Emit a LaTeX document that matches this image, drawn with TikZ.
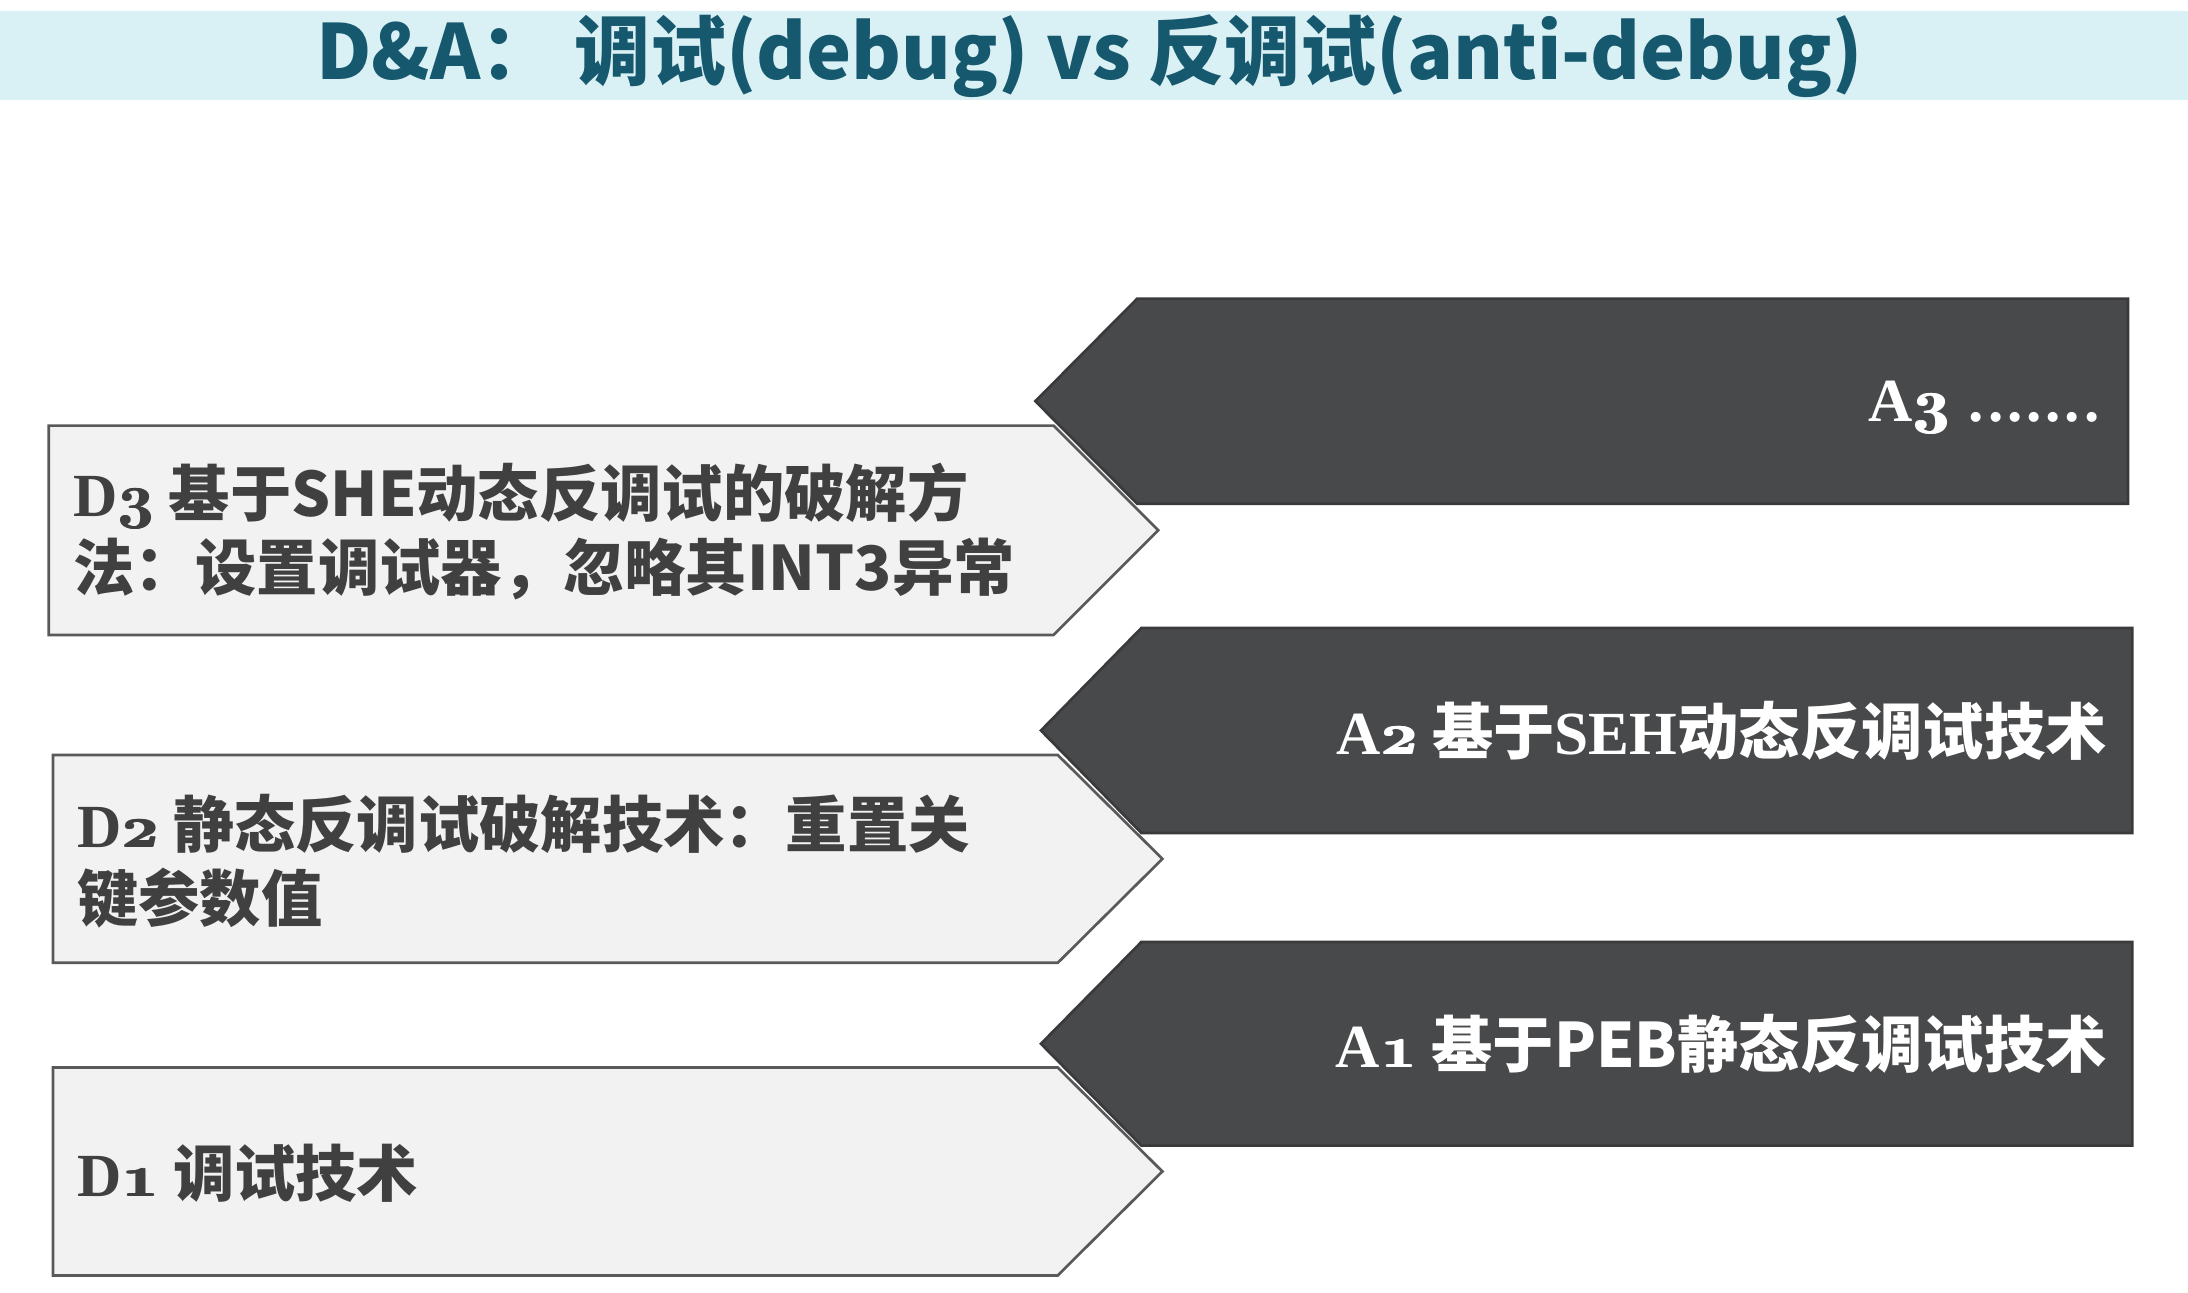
\documentclass[tikz,border=0pt]{standalone}
\usepackage{fontspec}
\usepackage{xcolor}
\usetikzlibrary{positioning}
\newfontfamily\cjk{Noto Sans CJK SC}
\newfontfamily\latserif{Liberation Serif}
\definecolor{bandcyan}{RGB}{217,240,245}
\definecolor{titleteal}{RGB}{22,88,110}
\definecolor{lightgray}{RGB}{242,242,242}
\definecolor{edgegray}{RGB}{89,89,89}
\definecolor{slate}{RGB}{72,73,75}
\definecolor{slateedge}{RGB}{58,58,60}
\definecolor{inkgray}{RGB}{64,64,64}
\newcommand\osn[1]{{\usefont{OML}{cmm}{b}{it}\rlap{#1}\kern0.5pt\rlap{#1}\kern0.5pt#1}}
\newcommand\lbl[2]{{\latserif\bfseries #1\osn{#2}}}
\newcommand\dotrun{{\latserif\bfseries .\kern1.6pt.\kern1.6pt.\kern1.6pt.\kern1.6pt.\kern1.6pt.\kern1.6pt.}}
\tikzstyle{defence}=[fill=lightgray, draw=edgegray, line width=1.1pt, line join=miter]
\tikzstyle{attack}=[fill=slate, draw=slateedge, line width=1.1pt, line join=miter]
\tikzstyle{dtext}=[anchor=west, align=left, text=inkgray, font=\cjk\bfseries\fontsize{25}{30}\selectfont, inner sep=0pt]
\tikzstyle{atext}=[anchor=east, align=right, text=white, font=\cjk\bfseries\fontsize{25}{30}\selectfont, inner sep=0pt]
\begin{document}
\begin{tikzpicture}[x=0.02cm, y=-0.02cm]
		\useasboundingbox (0,0) rectangle (1568,926);
		\fill[bandcyan] (0,8) rectangle (1568,72);
		\node (title) [text=titleteal, font=\cjk\bfseries\fontsize{31}{36}\selectfont, inner sep=0pt] at (781,40) {D\&A：\ 调试(debug) vs 反调试(anti-debug)};
		
		% defence side
		\draw[defence] (35,305) -- (755,305) -- (830,380) -- (755,455) -- (35,455) -- cycle;
		\draw[defence] (38,541) -- (758,541) -- (833,615.5) -- (758,690) -- (38,690) -- cycle;
		\draw[defence] (38,765) -- (758,765) -- (833,839.5) -- (758,914) -- (38,914) -- cycle;
		
		% attack side
		\draw[attack] (742,287.5) -- (815,214) -- (1525,214) -- (1525,361) -- (815,361) -- cycle;
		\draw[attack] (746,523.5) -- (818,450) -- (1528,450) -- (1528,597) -- (818,597) -- cycle;
		\draw[attack] (746,748) -- (818,675) -- (1528,675) -- (1528,821) -- (818,821) -- cycle;
		
		\node (d3) [dtext] at (52,381) {\lbl{D}{3} 基于SHE动态反调试的破解方\\法：设置调试器，忽略其INT3异常};
		\node (d2) [dtext] at (55,617) {\lbl{D}{2} 静态反调试破解技术：重置关\\键参数值};
		\node (d1) [dtext] at (55,841) {\lbl{D}{1} 调试技术};
		
		\node (a3) [atext] at (1505,292) {\lbl{A}{3}\hspace{0.3em}\dotrun};
		\node (a2) [atext] at (1510,524) {\lbl{A}{2} 基于{\latserif\bfseries SEH}动态反调试技术};
		\node (a1) [atext] at (1510,748) {\lbl{A}{1} 基于PEB静态反调试技术};
	\end{tikzpicture}
\end{document}
